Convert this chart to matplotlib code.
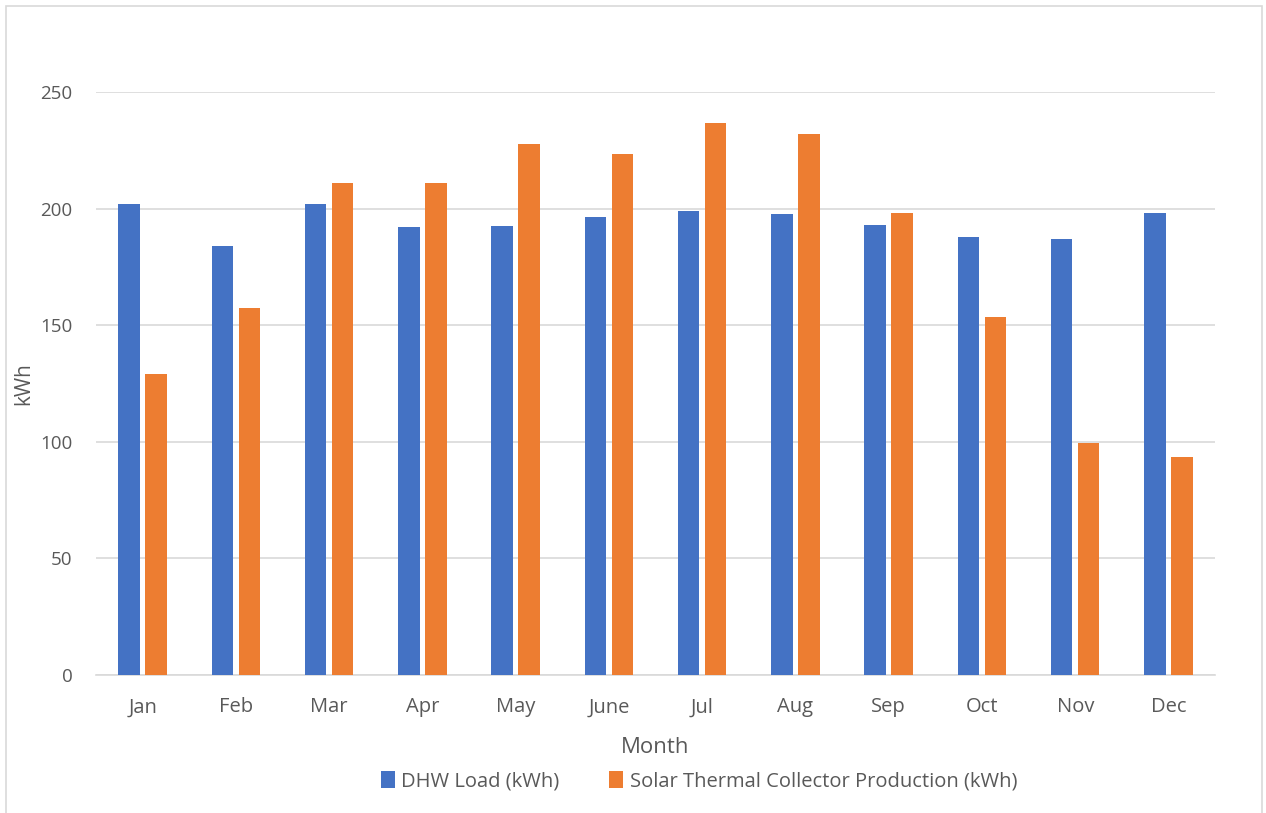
import matplotlib.pyplot as plt
import numpy as np
from matplotlib.patches import Rectangle

# Данные
months = ['Jan', 'Feb', 'Mar', 'Apr', 'May', 'June', 'Jul', 'Aug', 'Sep', 'Oct', 'Nov', 'Dec']
dhw_load = [202.1, 184.1, 202.1, 192.1, 192.5, 196.4, 199.1, 197.7, 193.0, 187.8, 186.8, 198.2]
solar_prod = [129.0, 157.3, 211.0, 210.9, 227.6, 223.6, 236.8, 231.9, 198.1, 153.4, 99.3, 93.7]

plt.rcParams['font.family'] = ['Open Sans', 'DejaVu Sans']
grey = '#595959'

fig = plt.figure(figsize=(12.66, 8.13), dpi=100)
ax = fig.add_axes([0.0758, 0.1697, 0.884, 0.717])

x = np.arange(len(months))
w = 0.23
ax.bar(x - 0.145, dhw_load, w, color='#4472C4', label='DHW Load (kWh)', zorder=3)
ax.bar(x + 0.145, solar_prod, w, color='#ED7D31', label='Solar Thermal Collector Production (kWh)', zorder=3)

ax.set_xlim(-0.5, 11.5)
ax.set_ylim(0, 250)
ax.set_yticks(range(0, 251, 50))
ax.set_xticks(x)
ax.set_xticklabels(months)
ax.grid(axis='y', color='#d9d9d9', linewidth=1.2, zorder=0)
for s in ['top', 'right', 'left']:
    ax.spines[s].set_visible(False)
ax.spines['bottom'].set_color('#d9d9d9')
ax.spines['bottom'].set_linewidth(1.2)
ax.tick_params(length=0, labelcolor=grey)
ax.tick_params(axis='x', labelsize=14.5, pad=16)
ax.tick_params(axis='y', labelsize=13.5, pad=17)

ax.set_xlabel('Month', fontsize=16, color=grey)
ax.xaxis.set_label_coords(0.5, -0.106)
ax.set_ylabel('kWh', fontsize=15, color=grey)
ax.yaxis.set_label_coords(-0.055, 0.5)

leg = fig.legend(loc='center', bbox_to_anchor=(0.552, 0.039), ncol=2, frameon=False,
                 fontsize=14.5, labelcolor=grey, handlelength=0.7, handleheight=0.9,
                 handletextpad=0.3, columnspacing=2.5)

# рамка вокруг диаграммы
fig.patches.append(Rectangle((6 / 1266, -0.1), 1256 / 1266, 1.1 - 6 / 813,
                             transform=fig.transFigure, fill=False,
                             edgecolor='#d9d9d9', linewidth=1.2))

plt.savefig('out.png', dpi=100)
